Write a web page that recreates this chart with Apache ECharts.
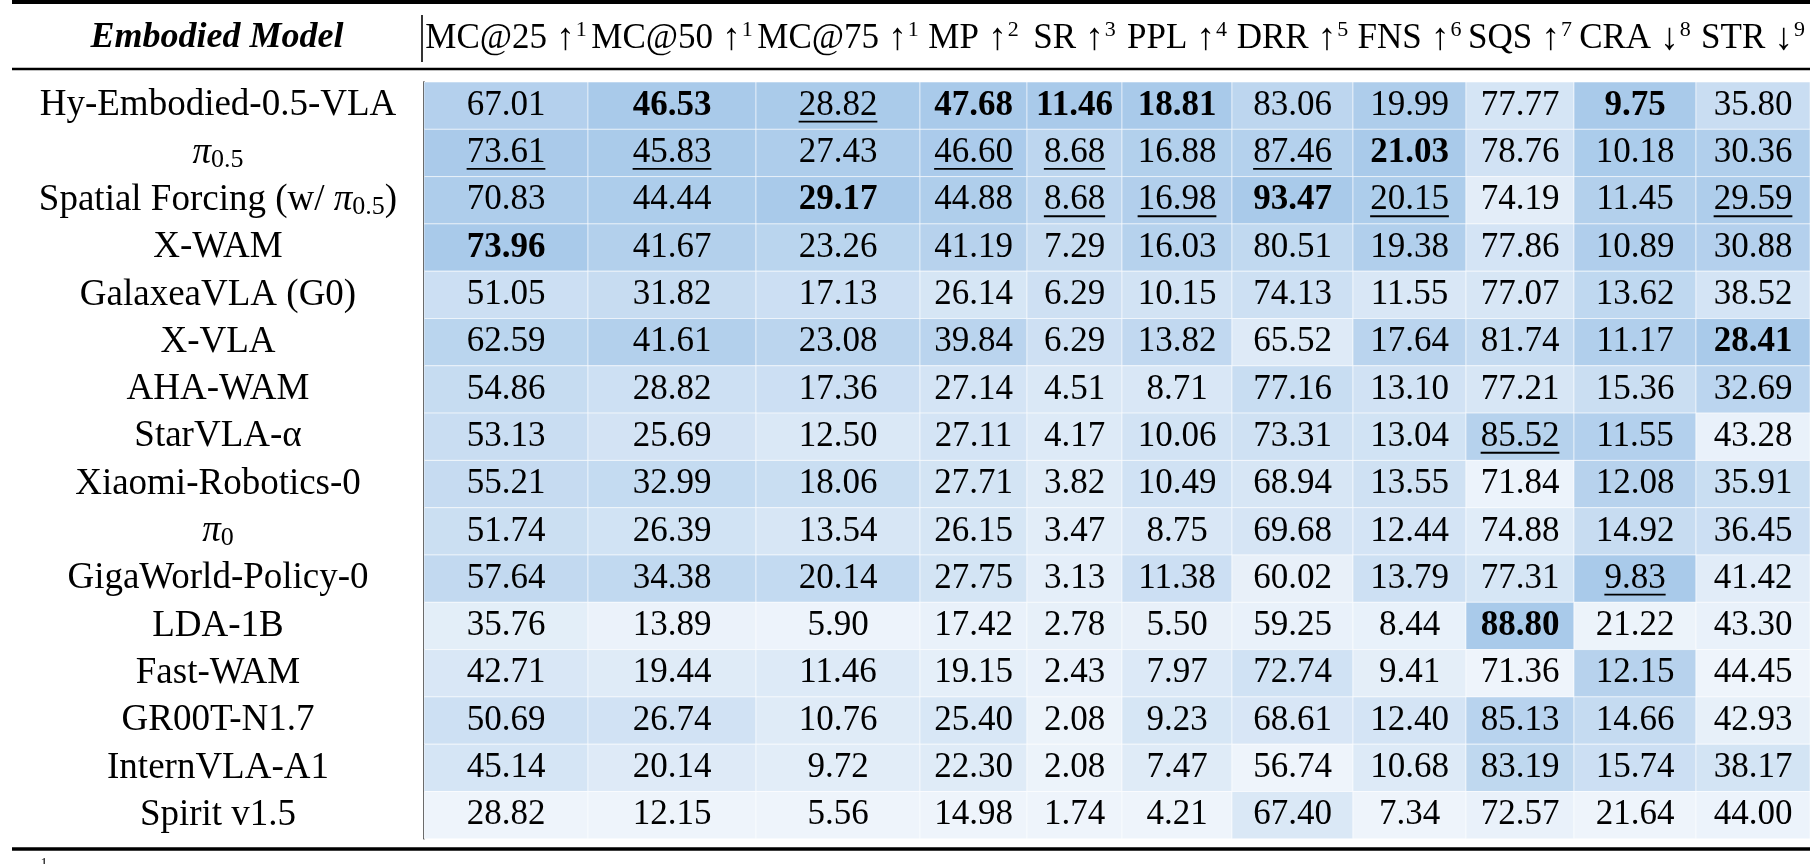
<!DOCTYPE html>
<html>
<head>
<meta charset="utf-8">
<title>Embodied model benchmark</title>
<script src="https://cdn.jsdelivr.net/npm/echarts@6/dist/echarts.min.js"></script>
<style>
  html, body { margin: 0; padding: 0; background: #fff; }
  #chart { width: 1820px; height: 864px; }
</style>
</head>
<body>
<div id="chart"></div>
<script>
var FONT = '"Liberation Serif", "DejaVu Serif", serif';
var FS = 35;

// rows
var models = ['Hy-Embodied-0.5-VLA', 'π0.5', 'Spatial Forcing (w/ π0.5)', 'X-WAM', 'GalaxeaVLA (G0)',
  'X-VLA', 'AHA-WAM', 'StarVLA-α', 'Xiaomi-Robotics-0', 'π0', 'GigaWorld-Policy-0', 'LDA-1B',
  'Fast-WAM', 'GR00T-N1.7', 'InternVLA-A1', 'Spirit v1.5'];

// columns
var metrics = ['MC@25', 'MC@50', 'MC@75', 'MP', 'SR', 'PPL', 'DRR', 'FNS', 'SQS', 'CRA', 'STR'];
var arrows = ['↑', '↑', '↑', '↑', '↑', '↑', '↑', '↑', '↑', '↓', '↓'];
var notes = [1, 1, 1, 2, 3, 4, 5, 6, 7, 8, 9];

var mc25 = [67.01, 73.61, 70.83, 73.96, 51.05, 62.59, 54.86, 53.13, 55.21, 51.74, 57.64, 35.76, 42.71, 50.69, 45.14, 28.82];
var mc50 = [46.53, 45.83, 44.44, 41.67, 31.82, 41.61, 28.82, 25.69, 32.99, 26.39, 34.38, 13.89, 19.44, 26.74, 20.14, 12.15];
var mc75 = [28.82, 27.43, 29.17, 23.26, 17.13, 23.08, 17.36, 12.50, 18.06, 13.54, 20.14, 5.90, 11.46, 10.76, 9.72, 5.56];
var mp   = [47.68, 46.60, 44.88, 41.19, 26.14, 39.84, 27.14, 27.11, 27.71, 26.15, 27.75, 17.42, 19.15, 25.40, 22.30, 14.98];
var sr   = [11.46, 8.68, 8.68, 7.29, 6.29, 6.29, 4.51, 4.17, 3.82, 3.47, 3.13, 2.78, 2.43, 2.08, 2.08, 1.74];
var ppl  = [18.81, 16.88, 16.98, 16.03, 10.15, 13.82, 8.71, 10.06, 10.49, 8.75, 11.38, 5.50, 7.97, 9.23, 7.47, 4.21];
var drr  = [83.06, 87.46, 93.47, 80.51, 74.13, 65.52, 77.16, 73.31, 68.94, 69.68, 60.02, 59.25, 72.74, 68.61, 56.74, 67.40];
var fns  = [19.99, 21.03, 20.15, 19.38, 11.55, 17.64, 13.10, 13.04, 13.55, 12.44, 13.79, 8.44, 9.41, 12.40, 10.68, 7.34];
var sqs  = [77.77, 78.76, 74.19, 77.86, 77.07, 81.74, 77.21, 85.52, 71.84, 74.88, 77.31, 88.80, 71.36, 85.13, 83.19, 72.57];
var cra  = [9.75, 10.18, 11.45, 10.89, 13.62, 11.17, 15.36, 11.55, 12.08, 14.92, 9.83, 21.22, 12.15, 14.66, 15.74, 21.64];
var str  = [35.80, 30.36, 29.59, 30.88, 38.52, 28.41, 32.69, 43.28, 35.91, 36.45, 41.42, 43.30, 44.45, 42.93, 38.17, 44.00];

var columns = [mc25, mc50, mc75, mp, sr, ppl, drr, fns, sqs, cra, str];

// layout
var colEdges = [424, 588, 756, 920, 1027, 1122, 1232, 1353, 1466, 1574, 1696, 1810];
var bodyTop = 82;
var rowH = 47.3;
var LIGHT = '#eef4fb';
var DARK = '#a9caea';

var measureCtx = document.createElement('canvas').getContext('2d');
function textWidth(s, font) {
  measureCtx.font = font;
  return measureCtx.measureText(s).width;
}

// 1 = best (bold), 2 = second best (underlined)
function rankFlags(vals, lowerBetter) {
  var uniq = vals.filter(function (v, i, a) { return a.indexOf(v) === i; })
    .sort(function (a, b) { return lowerBetter ? a - b : b - a; });
  return vals.map(function (v) { return v === uniq[0] ? 1 : (v === uniq[1] ? 2 : 0); });
}

function renderCell(params, api) {
  var c = api.coord([api.value(0), api.value(1)]);
  var s = api.size([1, 1]);
  var txt = api.value(2).toFixed(2);
  var flag = api.value(3);
  var font = (flag === 1 ? 'bold ' : '') + FS + 'px ' + FONT;
  var kids = [
    {
      type: 'rect',
      shape: { x: c[0] - s[0] / 2, y: c[1] - s[1] / 2, width: s[0], height: s[1] },
      style: { fill: api.visual('color'), stroke: 'rgba(255,255,255,0.55)', lineWidth: 1 }
    },
    {
      type: 'text',
      x: c[0],
      y: c[1],
      style: { text: txt, font: font, fill: '#000', align: 'center', verticalAlign: 'middle' }
    }
  ];
  if (flag === 2) {
    var w = textWidth(txt, font);
    kids.push({
      type: 'line',
      shape: { x1: c[0] - w / 2, y1: c[1] + 16, x2: c[0] + w / 2, y2: c[1] + 16 },
      style: { stroke: '#000', lineWidth: 1.8 }
    });
  }
  return { type: 'group', children: kids };
}

var grids = [], xAxes = [], yAxes = [], series = [], visualMaps = [];

columns.forEach(function (vals, i) {
  var lowerBetter = arrows[i] === '↓';
  var flags = rankFlags(vals, lowerBetter);

  grids.push({
    left: colEdges[i],
    width: colEdges[i + 1] - colEdges[i],
    top: bodyTop,
    height: rowH * models.length
  });

  xAxes.push({
    type: 'category',
    gridIndex: i,
    position: 'top',
    data: [metrics[i]],
    axisLine: { show: false },
    axisTick: { show: false },
    splitLine: { show: false },
    axisLabel: {
      interval: 0,
      margin: 43,
      verticalAlign: 'middle',
      color: '#000',
      fontFamily: FONT,
      fontSize: FS,
      formatter: function (name) {
        return '{h|' + name + ' }{ar|' + arrows[i] + '}{sup|' + notes[i] + '}';
      },
      rich: {
        h: { fontFamily: FONT, fontSize: FS, color: '#000' },
        ar: { fontFamily: FONT, fontSize: 38, color: '#000' },
        sup: { fontFamily: FONT, fontSize: 22, color: '#000', padding: [0, 0, 18, 1] }
      }
    }
  });

  yAxes.push({
    type: 'category',
    gridIndex: i,
    inverse: true,
    data: models,
    axisTick: { show: false },
    splitLine: { show: false },
    axisLine: { show: i === 0, lineStyle: { color: '#000', width: 1.6 } },
    axisLabel: i === 0 ? {
      interval: 0,
      margin: 206,
      align: 'center',
      color: '#000',
      fontFamily: FONT,
      fontSize: 37,
      formatter: function (name) {
        return name.replace(/π(0\.5|0)/g, '{pi|π}{sub|$1}');
      },
      rich: {
        pi: { fontFamily: FONT, fontSize: 37, fontStyle: 'italic', color: '#000' },
        sub: { fontFamily: FONT, fontSize: 26, color: '#000', padding: [14, 0, 0, 0] }
      }
    } : { show: false }
  });

  series.push({
    type: 'custom',
    name: metrics[i],
    xAxisIndex: i,
    yAxisIndex: i,
    silent: true,
    renderItem: renderCell,
    encode: { x: 0, y: 1 },
    data: vals.map(function (v, r) { return [0, r, v, flags[r]]; })
  });

  visualMaps.push({
    type: 'continuous',
    show: false,
    seriesIndex: i,
    dimension: 2,
    min: Math.min.apply(null, vals),
    max: Math.max.apply(null, vals),
    inRange: { color: lowerBetter ? [DARK, LIGHT] : [LIGHT, DARK] }
  });
});

var chart = echarts.init(document.getElementById('chart'), null, { renderer: 'canvas' });
chart.setOption({
  backgroundColor: '#fff',
  animation: false,
  grid: grids,
  xAxis: xAxes,
  yAxis: yAxes,
  visualMap: visualMaps,
  series: series,
  graphic: [
    { type: 'line', shape: { x1: 12, y1: 2, x2: 1810, y2: 2 }, style: { stroke: '#000', lineWidth: 4 } },
    { type: 'line', shape: { x1: 12, y1: 69, x2: 1810, y2: 69 }, style: { stroke: '#000', lineWidth: 2.5 } },
    { type: 'line', shape: { x1: 12, y1: 849, x2: 1810, y2: 849 }, style: { stroke: '#000', lineWidth: 3.5 } },
    { type: 'line', shape: { x1: 422, y1: 15, x2: 422, y2: 62 }, style: { stroke: '#000', lineWidth: 1.6 } },
    {
      type: 'text', x: 217, y: 38,
      style: {
        text: 'Embodied Model', fill: '#000', align: 'center', verticalAlign: 'middle',
        font: 'italic bold 36px ' + FONT
      }
    },
    {
      type: 'text', x: 44, y: 857,
      style: { text: '1', fill: '#000', align: 'center', verticalAlign: 'top', font: '14px ' + FONT }
    }
  ]
});
</script>
</body>
</html>
